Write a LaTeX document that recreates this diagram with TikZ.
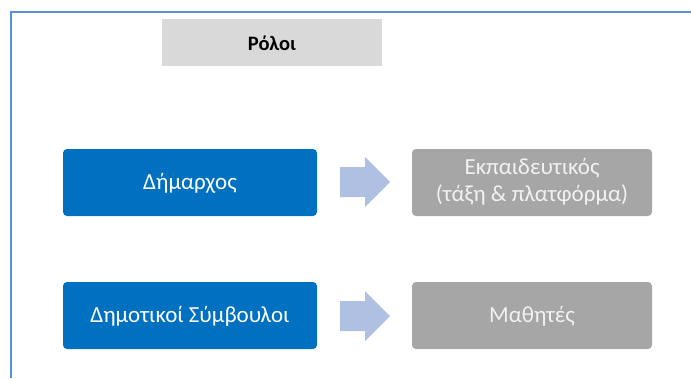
\documentclass[tikz,border=0pt]{standalone}
\usepackage{fontspec}
\setmainfont{Carlito}
\definecolor{framecol}{HTML}{5B8FD9}
\definecolor{titlefill}{HTML}{D9D9D9}
\definecolor{rolefill}{HTML}{0070C0}
\definecolor{targetfill}{HTML}{A6A6A6}
\definecolor{arrowfill}{HTML}{AFC0E2}
\definecolor{lighttext}{HTML}{F2F2F2}
\tikzset{
  rolebox/.style={fill=rolefill, rounded corners=4pt, text=white},
  targetbox/.style={fill=targetfill, rounded corners=4pt, text=lighttext},
  boxlabel/.style={font=\fontsize{23}{27}\selectfont, align=center, inner sep=0pt},
}
\begin{document}
\begin{tikzpicture}[x=1pt, y=-1pt]
\useasboundingbox (0,0) rectangle (691,378);
% outer frame, only its top and left edges fall inside the page
\draw[framecol, line width=2pt] (11,378) -- (11,12) -- (691,12);
% title bar
\fill[titlefill] (162,19) rectangle (382,66);
\node[boxlabel, font=\fontsize{20.5}{24}\selectfont\bfseries] (title) at (272,43) {Ρόλοι};
% role boxes
\fill[rolebox] (63,149) rectangle (317,216);
\node[boxlabel, text=white] (mayor) at (190,183) {Δήμαρχος};
\fill[rolebox] (63,282) rectangle (317,349);
\node[boxlabel, text=white] (council) at (190,316) {Δημοτικοί Σύμβουλοι};
% target boxes
\fill[targetbox] (412,149) rectangle (652,216);
\node[boxlabel, text=lighttext] (teacher) at (532,182) {Εκπαιδευτικός\\(τάξη \& πλατφόρμα)};
\fill[targetbox] (412,282) rectangle (652,349);
\node[boxlabel, text=lighttext] (pupils) at (532,316) {Μαθητές};
% block arrows
\foreach \yc in {182,316}{
  \fill[arrowfill] (340,\yc-15) -- (365,\yc-15) -- (365,\yc-25) -- (390,\yc) -- (365,\yc+25) -- (365,\yc+15) -- (340,\yc+15) -- cycle;
}
\end{tikzpicture}
\end{document}
